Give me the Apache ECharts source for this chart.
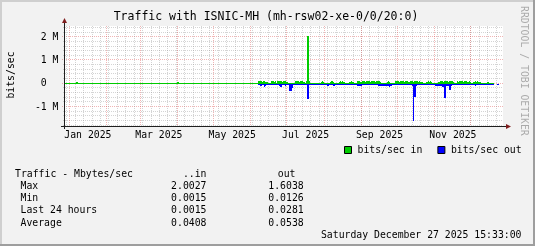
<!DOCTYPE html>
<html><head><meta charset="utf-8">
<script src="https://cdn.jsdelivr.net/npm/echarts@6/dist/echarts.min.js"></script>
<style>html,body{margin:0;padding:0;background:#f2f2f2}#c{width:535px;height:246px}</style>
</head><body><div id="c"></div>
<script>
const FONT = "'DejaVu Sans Mono', monospace";
const DAY = 86400000;
const U = s => new Date(s + 'Z').getTime();

// ---- axis ranges / ticks ----
const xStart = '2024-12-27T15:33:00';
const xEnd = '2025-12-27T15:33:00';
const yMinM = -1.833, yMaxM = 2.459;               // Mbit/s
const yTickValues = [2, 1, 0, -1];
const yTickLabels = ['2 M', '1 M', '0', '-1 M'];
const yMinorValues = [-1.8,-1.6,-1.4,-1.2,-0.8,-0.6,-0.4,-0.2,0.2,0.4,0.6,0.8,1.2,1.4,1.6,1.8,2.2,2.4];
const monthStarts = ['2025-01-01','2025-02-01','2025-03-01','2025-04-01','2025-05-01','2025-06-01',
  '2025-07-01','2025-08-01','2025-09-01','2025-10-01','2025-11-01','2025-12-01'];
const firstWeek = '2024-12-30';
const xLabelFrom = ['2025-01-01','2025-03-01','2025-05-01','2025-07-01','2025-09-01','2025-11-01'];
const xLabelTo   = ['2025-02-01','2025-04-01','2025-06-01','2025-08-01','2025-10-01','2025-12-01'];
const xTickLabels = ['Jan 2025','Mar 2025','May 2025','Jul 2025','Sep 2025','Nov 2025'];

// ---- data (Mbit/s) ----
const quietFrom = ['2024-12-27T15:33:00','2025-01-07','2025-01-08','2025-04-01','2025-04-02'];
const quietTo   = ['2025-01-07','2025-01-08','2025-04-01','2025-04-02','2025-06-07'];
const quietIn   = [0.0015, 0.04, 0.0015, 0.04, 0.0015];
const activeStart = '2025-06-07';   // one value per day from here
const activeIn = [
 0.07,0.08,0.07,0.06,0.08,0.07,0.06,0.05, 0.004,0.004,0.004, 0.07,0.08,0.06,0.07, 0.004,
 0.08,0.07,0.08,0.07,0.06,0.08,0.07,0.06,0.05, 0.004,0.004,0.004,0.004,0.004,0.004,
 0.07,0.08,0.07,0.06,0.08,0.07,0.05,0.06, 0.004, 0.07, 2.0027, 0.08,
 0.004,0.004,0.004,0.004,0.004,0.004,0.004,0.004,0.004, 0.06,0.07,0.05,
 0.004,0.004,0.004,0.004,0.004, 0.06,0.07,0.06, 0.004,0.004,0.004,0.004,
 0.06,0.07,0.06,0.07,0.05, 0.004,0.004,0.004,0.004, 0.06,0.07,0.06,0.05, 0.004,0.004,
 0.07,0.08,0.07,0.06,0.07,0.08,0.07,0.06,0.07,0.08,0.07,0.06,0.07,0.08,0.07,0.06,0.07,0.08,0.07,0.06,
 0.004,0.004,0.004,0.004,0.004, 0.06,0.07,0.06, 0.004,0.004,0.004,0.004,
 0.07,0.08,0.07,0.06,0.07,0.08,0.07,0.06,0.07,0.08,0.07,0.06,0.07,0.08,0.07,0.06,0.07,0.08,0.07,0.06,0.07,0.06,0.05,
 0.004,0.004,0.004, 0.06,0.07,0.06,0.07,0.05, 0.004,0.004,0.004,0.004,0.004,
 0.06,0.07,0.08,0.07,0.06,0.07,0.08,0.07,0.06,0.07,0.08,0.07,0.06, 0.004,0.004,
 0.07,0.06,0.07,0.08,0.07,0.06,0.07,0.08,0.07,0.06,0.07,0.06, 0.004,0.004,
 0.06,0.07,0.06,0.07,0.06,0.05, 0.004,0.004,0.004,0.004,0.004, 0.06,0.05,
 0.004,0.004,0.004,0.004, null,null,null,null,null
];
const activeOut = [
 0.06,0.05,0.08,0.05,0.06,0.14,0.07,0.04, 0.03,0.02,0.03, 0.05,0.06,0.05,0.04,0.03,
 0.06,0.07,0.12,0.12,0.06,0.05,0.07,0.05,0.04, 0.05,0.28,0.28,0.18,0.05,0.04,
 0.05,0.04,0.06,0.05,0.04,0.05,0.04,0.05,0.04,0.05, 0.66,
 0.05,0.04,0.05,0.03,0.04,0.05,0.04,0.03,0.05,0.04,0.05,0.04,0.04,0.03,0.04,
 0.08,0.07,0.05,0.06,0.06,0.1,0.08,0.06,0.05,0.04,
 0.05,0.04,0.05,0.04,0.05,0.04,0.03,0.04,0.05,0.04,0.05,0.04,0.05,0.04,0.05,
 0.08,0.08,0.07,0.08,0.05,0.04,0.05,0.04,0.06,0.05,0.04,0.05,0.04,0.05,0.06,0.05,0.04,0.05,
 0.1,0.1,0.09,0.1,0.08,0.09,0.1,0.08,0.09,0.14,0.08,0.06,0.04,0.05,
 0.05,0.04,0.05,0.06,0.05,0.04,0.05,0.04,0.05,0.06,0.05,0.04,0.05,0.06,0.1,
 1.6038, 0.57,
 0.08,0.06,0.05,0.04,0.05,0.04,0.05,0.04,0.05,0.04,0.05,0.04,0.05,0.04,0.03,0.04,
 0.08,0.1,0.08,0.1,0.09,0.1,0.12,0.12,0.61,0.1,0.08,0.1,0.26,0.1,
 0.06,0.05,0.04,0.05,0.04,0.05,0.04,0.05,0.04,0.05,0.04,0.05,0.04,0.05,0.04,0.05,0.04,0.05,0.06,
 0.1,
 0.06,0.05,0.04,0.05,0.04,0.05,0.04,0.05,0.04,0.05,0.04,0.05,0.06,0.05,0.04,
 null,null,null, 0.06, null
];

// ---- legend / stats table ----
const seriesNames = ['bits/sec in', 'bits/sec out'];
const statHeader = ['Traffic - Mbytes/sec', '..in', 'out'];
const statLabels = ['Max', 'Min', 'Last 24 hours', 'Average'];
const statIn  = ['2.0027', '0.0015', '0.0015', '0.0408'];
const statOut = ['1.6038', '0.0126', '0.0281', '0.0538'];
const stampText = 'Saturday December 27 2025 15:33:00';
const titleText = 'Traffic with ISNIC-MH (mh-rsw02-xe-0/0/20:0)';

// ---- build data items ----
const t0 = U(activeStart + 'T00:00:00');
const inData = quietFrom.map((f, i) => [U(f.length > 10 ? f : f + 'T00:00:00'), U(quietTo[i] + 'T00:00:00'), quietIn[i]]);
activeIn.forEach((v, i) => { if (v != null) inData.push([t0 + i * DAY, t0 + (i + 1) * DAY, v]); });
const outData = [];
activeOut.forEach((v, i) => { if (v != null) outData.push([t0 + i * DAY, t0 + (i + 1) * DAY, v]); });

const vGridData = [];
for (let t = U(firstWeek + 'T00:00:00'); t < U(xEnd); t += 7 * DAY) vGridData.push([t, 0]);
monthStarts.forEach(m => vGridData.push([U(m + 'T00:00:00'), 1]));
const hGridData = yMinorValues.map(v => [v, 0]).concat(yTickValues.map(v => [v, 1]));
const xLabData = xLabelFrom.map((f, i) => [U(f + 'T00:00:00'), U(xLabelTo[i] + 'T00:00:00'), i]);
const yLabData = yTickValues.map((v, i) => [v, i]);

const MIN_C = 'rgba(143,143,143,0.38)';
const MAJ_C = 'rgba(222,79,79,0.42)';

function areaRender(color, up) {
  return function (params, api) {
    const a = api.value(0), b = api.value(1), v = api.value(2);
    const p0 = api.coord([a, 0]);
    const p1 = api.coord([b, up ? v : -v]);
    const x0 = Math.round(p0[0]), x1 = Math.round(p1[0]);
    const yz = Math.round(p0[1] - 0.5);
    const h = Math.round(Math.abs(p1[1] - p0[1]));
    const w = Math.max(1, x1 - x0);
    const shape = up ? { x: x0, y: yz - h, width: w, height: h + 1 }
                     : { x: x0, y: yz + 1, width: w, height: Math.max(1, h) };
    return { type: 'rect', shape: shape, style: { fill: color }, silent: true };
  };
}

const option = {
  backgroundColor: '#f2f2f2',
  animation: false,
  grid: { left: 64, top: 26, width: 439, height: 100, show: true, backgroundColor: '#ffffff', borderWidth: 0 },
  xAxis: { type: 'time', min: U(xStart), max: U(xEnd), show: false },
  yAxis: { type: 'value', min: yMinM, max: yMaxM, show: false },
  legend: {
    left: 344, top: 145, padding: 0, itemWidth: 7, itemHeight: 7, itemGap: 15, selectedMode: false,
    icon: 'rect',
    textStyle: { fontFamily: FONT, fontSize: 9.8, color: '#000', padding: [0, 0, 0, 1] },
    itemStyle: { borderColor: '#000', borderWidth: 1 },
    data: seriesNames
  },
  series: [
    { type: 'custom', name: 'hgrid', z: 1, silent: true, data: hGridData, encode: { y: 0 },
      renderItem: (params, api) => {
        const cs = params.coordSys;
        const y = Math.floor(api.coord([U(xStart), api.value(0)])[1]) + 0.5;
        const major = api.value(1) === 1;
        return { type: 'line', shape: { x1: cs.x - (major ? 2 : 1), y1: y, x2: cs.x + cs.width, y2: y },
                 style: { stroke: major ? MAJ_C : MIN_C, lineWidth: 1, lineDash: [1, 1] } };
      } },
    { type: 'custom', name: 'vgrid', z: 1, silent: true, data: vGridData, encode: { x: 0 },
      renderItem: (params, api) => {
        const cs = params.coordSys;
        const x = Math.floor(api.coord([api.value(0), 0])[0]) + 0.5;
        const major = api.value(1) === 1;
        return { type: 'line', shape: { x1: x, y1: cs.y, x2: x, y2: cs.y + cs.height + (major ? 2 : 1) },
                 style: { stroke: major ? MAJ_C : MIN_C, lineWidth: 1, lineDash: [1, 1] } };
      } },
    { type: 'custom', name: seriesNames[1], z: 3, data: outData, encode: { x: [0, 1], y: 2 },
      itemStyle: { color: '#0000ff' }, renderItem: areaRender('#0000ff', false) },
    { type: 'custom', name: seriesNames[0], z: 4, data: inData, encode: { x: [0, 1], y: 2 },
      itemStyle: { color: '#00cc00' }, renderItem: areaRender('#00cc00', true) },
    { type: 'custom', name: 'xlabels', z: 5, silent: true, data: xLabData, encode: { x: [0, 1] },
      renderItem: (params, api) => {
        const cs = params.coordSys;
        const xa = api.coord([api.value(0), 0])[0], xb = api.coord([api.value(1), 0])[0];
        return { type: 'text', x: (xa + xb) / 2, y: cs.y + cs.height + 9,
                 style: { text: xTickLabels[api.value(2)], font: '9.8px ' + FONT, fill: '#000',
                          align: 'center', verticalAlign: 'middle', textAlign: 'center', textVerticalAlign: 'middle' } };
      } },
    { type: 'custom', name: 'ylabels', z: 5, silent: true, data: yLabData, encode: { y: 0 },
      renderItem: (params, api) => {
        const cs = params.coordSys;
        const y = api.coord([U(xStart), api.value(0)])[1];
        let t = yTickLabels[api.value(1)];
        if (t.indexOf('M') < 0) t = t + '  ';
        return { type: 'text', x: cs.x - 5.5, y: y + 0.5,
                 style: { text: t, font: '9.8px ' + FONT, fill: '#000',
                          align: 'right', verticalAlign: 'middle', textAlign: 'right', textVerticalAlign: 'middle' } };
      } }
  ],
  graphic: []
};

// decorations: frame, axes, arrows, texts
const G = option.graphic;
G.push({ type: 'rect', shape: { x: 0, y: 0, width: 535, height: 2 }, style: { fill: '#cfcfcf' }, silent: true });
G.push({ type: 'rect', shape: { x: 0, y: 0, width: 2, height: 246 }, style: { fill: '#cfcfcf' }, silent: true });
G.push({ type: 'rect', shape: { x: 0, y: 244, width: 535, height: 2 }, style: { fill: '#9e9e9e' }, silent: true });
G.push({ type: 'rect', shape: { x: 533, y: 0, width: 2, height: 246 }, style: { fill: '#9e9e9e' }, silent: true });
// axes
G.push({ type: 'line', z: 10, shape: { x1: 64.5, y1: 129, x2: 64.5, y2: 21 }, style: { stroke: '#1f1f1f', lineWidth: 1 }, silent: true });
G.push({ type: 'line', z: 10, shape: { x1: 61, y1: 126.5, x2: 507, y2: 126.5 }, style: { stroke: '#1f1f1f', lineWidth: 1 }, silent: true });
G.push({ type: 'polygon', z: 11, shape: { points: [[62, 23], [67, 23], [64.5, 18]] }, style: { fill: '#801f1f' }, silent: true });
G.push({ type: 'polygon', z: 11, shape: { points: [[506, 124], [506, 129], [511, 126.5]] }, style: { fill: '#801f1f' }, silent: true });
// title
G.push({ type: 'text', x: 266, y: 17.5, style: { text: titleText, font: '11.5px ' + FONT, fill: '#000',
  textAlign: 'center', textVerticalAlign: 'middle', align: 'center', verticalAlign: 'middle' }, silent: true });
// vertical unit label
G.push({ type: 'text', x: 11, y: 75, rotation: Math.PI / 2, style: { text: 'bits/sec', font: '9.8px ' + FONT, fill: '#000',
  textAlign: 'center', textVerticalAlign: 'middle', align: 'center', verticalAlign: 'middle' }, silent: true });
// watermark
G.push({ type: 'text', x: 523.5, y: 6, rotation: -Math.PI / 2, style: { text: 'RRDTOOL / TOBI OETIKER', font: '9.8px ' + FONT,
  fill: 'rgba(0,0,0,0.3)', textAlign: 'left', textVerticalAlign: 'middle', align: 'left', verticalAlign: 'middle' }, silent: true });
// stats table
function txt(s, x, y, al) {
  G.push({ type: 'text', x: x, y: y, style: { text: s, font: '9.8px ' + FONT, fill: '#000',
    textAlign: al, textVerticalAlign: 'middle', align: al, verticalAlign: 'middle' }, silent: true });
}
txt(statHeader[0], 15, 174.5, 'left');
txt(statHeader[1], 206.5, 174.5, 'right');
txt(statHeader[2], 295.5, 174.5, 'right');
const rowY = [186.5, 198.6, 210.8, 223];
statLabels.forEach((l, i) => {
  txt(l, 20.5, rowY[i], 'left');
  txt(statIn[i], 206.5, rowY[i], 'right');
  txt(statOut[i], 303.7, rowY[i], 'right');
});
txt(stampText, 521.5, 235.2, 'right');

const chart = echarts.init(document.getElementById('c'), null, { renderer: 'canvas', width: 535, height: 246 });
chart.setOption(option);
</script></body></html>
